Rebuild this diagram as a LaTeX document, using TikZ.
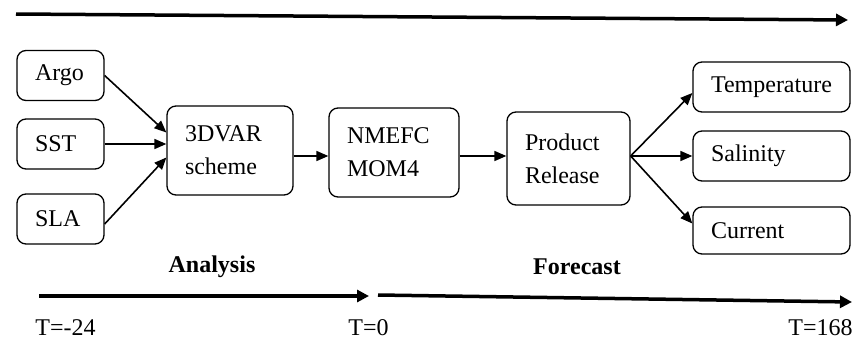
\documentclass[tikz,border=0pt]{standalone}
\usepackage{fontspec}
\setmainfont{Liberation Serif}
\usetikzlibrary{arrows.meta, positioning, calc}

\tikzset{
  stagebox/.style={draw, line width=1.3pt, rounded corners=9pt,
    inner xsep=18pt, inner ysep=4pt, align=left, text width=#1,
    font=\fontsize{24}{33}\selectfont},
  smallbox/.style={stagebox=#1, minimum height=50pt},
  bigbox/.style={stagebox=#1, minimum height=89pt},
  flowarrow/.style={-{Triangle[length=12pt,width=10pt]}, line width=1.6pt},
  timearrow/.style={-{Triangle[length=12pt,width=12pt]}, line width=#1},
  timelabel/.style={inner sep=0pt, font=\fontsize{24}{26}\selectfont},
  phaselabel/.style={inner sep=0pt, font=\bfseries\fontsize{24}{26}\selectfont}
}

\begin{document}
\begin{tikzpicture}[x=1pt, y=-1pt]
  \useasboundingbox (0,0) rectangle (854,340);

  % time axis on top
  \coordinate (top start) at (16,14);
  \coordinate (top end) at (848,20);
  \draw[timearrow=3.5pt] (top start) -- (top end);

  % observations
  \node[smallbox=51pt] (argo) at (60.5,75.5) {Argo};
  \node[smallbox=51pt] (sst) at (60.5,144) {SST};
  \node[smallbox=51pt] (sla) at (60.5,219) {SLA};

  % assimilation, model, release
  \node[bigbox=90pt] (dvar) at (230,150.5) {3DVAR\\scheme};
  \node[bigbox=94pt] (nmefc) at (394,152.5) {NMEFC\\MOM4};
  \node[bigbox=87pt, minimum height=93pt] (prod) at (568.5,158.5) {Product\\Release};

  % products
  \node[smallbox=121pt] (temp) at (771.5,87) {Temperature};
  \node[smallbox=121pt] (sal) at (771.5,156) {Salinity};
  \node[smallbox=121pt, minimum height=47pt] (cur) at (771.5,230.5) {Current};

  \coordinate (flow) at (0,156);

  \draw[flowarrow] (argo.east) -- ([yshift=18pt]dvar.west);
  \draw[flowarrow] (sst.east) -- (sst.east -| dvar.west);
  \draw[flowarrow] ([yshift=-5pt]sla.east) -- ([yshift=-7pt]dvar.west);
  \draw[flowarrow] (dvar.east |- flow) -- (nmefc.west |- flow);
  \draw[flowarrow] (nmefc.east |- flow) -- (prod.west |- flow);
  \draw[flowarrow] (prod.east |- flow) -- ([yshift=-6pt]temp.west);
  \draw[flowarrow] (prod.east |- flow) -- (sal.west |- flow);
  \draw[flowarrow] (prod.east |- flow) -- ([yshift=7pt]cur.west);

  % analysis and forecast windows
  \node[phaselabel] (analysis) at (212,267) {Analysis};
  \node[phaselabel] (forecast) at (577,267) {Forecast};

  \coordinate (ana start) at (39,296);
  \coordinate (ana end) at (369,296);
  \coordinate (fc start) at (378,295);
  \coordinate (fc end) at (852,302);
  \draw[timearrow=3.5pt] (ana start) -- (ana end);
  \draw[timearrow=3.5pt] (fc start) -- (fc end);

  \node[timelabel] (t0) at (65.5,328) {T=-24};
  \node[timelabel] (t1) at (368.5,328) {T=0};
  \node[timelabel] (t2) at (820.5,328) {T=168};
\end{tikzpicture}
\end{document}
